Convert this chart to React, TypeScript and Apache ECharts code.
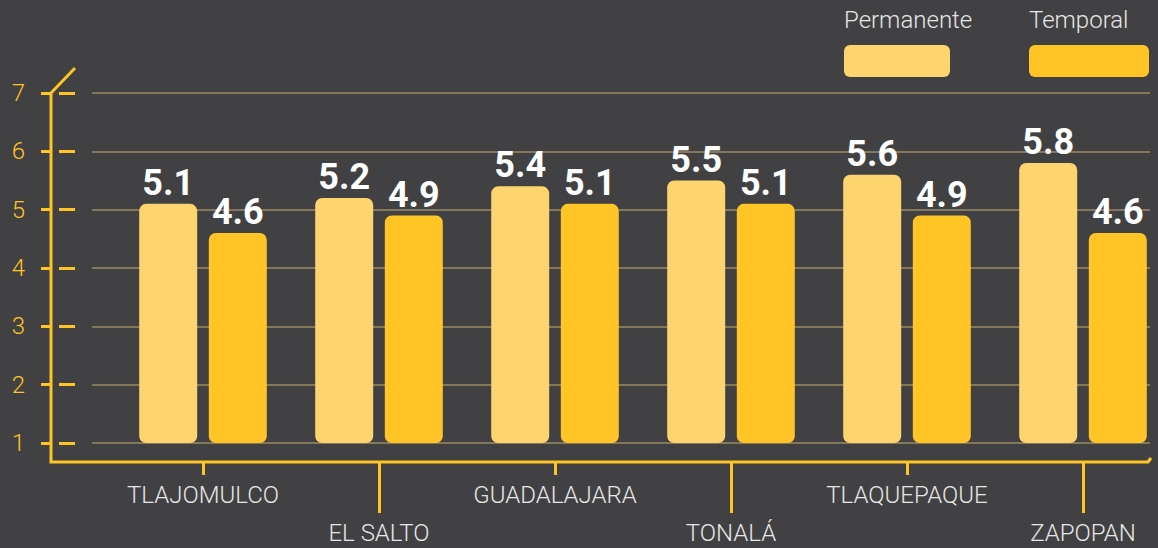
import React, { useEffect, useRef } from "react";
import * as echarts from "echarts";

const categories = ["TLAJOMULCO", "EL SALTO", "GUADALAJARA", "TONALÁ", "TLAQUEPAQUE", "ZAPOPAN"];
const permanente = [5.1, 5.2, 5.4, 5.5, 5.6, 5.8];
const temporal = [4.6, 4.9, 5.1, 5.1, 4.9, 4.6];
const seriesNames = ["Permanente", "Temporal"];
const yMin = 1;
const yMax = 7;
const yInterval = 1;

const BG = "#414042";
const LIGHT = "#FED46E";
const DARK = "#FFC425";
const AXIS = "#FFC425";
const GRIDLINE = "#9d8a66";
const TEXT = "#e6e6e6";
const FONT = "Roboto";

export default function App() {
  const ref = useRef<HTMLDivElement>(null);
  useEffect(() => {
    if (!ref.current) return;
    const chart = echarts.init(ref.current, null, { renderer: "svg" });
    const isEven = (i: number) => i % 2 === 0;
    const isOdd = (i: number) => i % 2 === 1;
    const xLabelStyle = { color: TEXT, fontFamily: FONT, fontSize: 24, fontWeight: 300, lineHeight: 24 };
    const barLabel = {
      show: true,
      position: "top",
      distance: 3,
      color: "#ffffff",
      fontFamily: FONT,
      fontWeight: "bold",
      fontSize: 36,
    };
    const gridBase = { top: 93, height: 350, outerBoundsMode: "none", containLabel: false };
    const valueAxisBase = { type: "value", min: yMin, max: yMax, interval: yInterval, position: "left" };
    const option: any = {
      animation: false,
      backgroundColor: BG,
      grid: [
        { ...gridBase, left: 92, right: 8 },
        { ...gridBase, left: 203, right: 75 },
        { ...gridBase, left: 51, right: 8 },
        { ...gridBase, left: 59, right: 8 },
      ],
      xAxis: [
        {
          type: "category",
          gridIndex: 1,
          data: categories,
          boundaryGap: false,
          position: "bottom",
          offset: 19,
          axisLine: { show: false },
          axisTick: { show: true, length: 13, interval: isEven, lineStyle: { color: AXIS, width: 3 } },
          axisLabel: { interval: isEven, margin: 21, ...xLabelStyle },
        },
        {
          type: "category",
          gridIndex: 1,
          data: categories,
          boundaryGap: false,
          position: "bottom",
          offset: 19,
          axisLine: { show: false },
          axisTick: { show: true, length: 51, interval: isOdd, lineStyle: { color: AXIS, width: 3 } },
          axisLabel: { interval: isOdd, margin: 59, ...xLabelStyle },
        },
        { type: "value", gridIndex: 0, min: 0, max: 1, show: false },
        { type: "value", gridIndex: 2, min: 0, max: 1, show: false },
        { type: "value", gridIndex: 3, min: 0, max: 1, show: false },
      ],
      yAxis: [
        {
          ...valueAxisBase,
          gridIndex: 0,
          axisLine: { show: false },
          axisTick: { show: false },
          axisLabel: { show: false },
          splitLine: { show: true, lineStyle: { color: GRIDLINE, width: 1.5 } },
        },
        {
          type: "value",
          gridIndex: 1,
          min: yMin,
          max: yMax,
          startValue: yMin,
          show: false,
          splitLine: { show: false },
        },
        {
          ...valueAxisBase,
          gridIndex: 2,
          axisLine: { show: false },
          axisTick: { show: true, length: 10, lineStyle: { color: AXIS, width: 3 } },
          axisLabel: { margin: 26, color: AXIS, fontFamily: FONT, fontWeight: 300, fontSize: 24 },
          splitLine: { show: false },
        },
        {
          ...valueAxisBase,
          gridIndex: 3,
          axisLine: { show: false },
          axisTick: { show: true, inside: true, length: 16, lineStyle: { color: AXIS, width: 3 } },
          axisLabel: { show: false },
          splitLine: { show: false },
        },
      ],
      series: [
        {
          name: seriesNames[0],
          type: "bar",
          xAxisIndex: 0,
          yAxisIndex: 1,
          data: permanente,
          barWidth: 58,
          barGap: "20%",
          itemStyle: { color: LIGHT, borderRadius: 7 },
          label: barLabel,
        },
        {
          name: seriesNames[1],
          type: "bar",
          xAxisIndex: 0,
          yAxisIndex: 1,
          data: temporal,
          barWidth: 58,
          barGap: "20%",
          itemStyle: { color: DARK, borderRadius: 7 },
          label: barLabel,
        },
      ],
      graphic: [
        {
          type: "polyline",
          shape: { points: [[75, 68], [51, 93], [51, 462], [1148, 462], [1151, 458]] },
          style: { stroke: AXIS, lineWidth: 3, fill: null },
          z: 10,
        },
        {
          type: "text",
          left: 844,
          top: 8,
          style: { text: seriesNames[0], fill: TEXT, font: `300 24px ${FONT}` },
        },
        {
          type: "rect",
          shape: { x: 844, y: 45, width: 106, height: 32, r: 6 },
          style: { fill: LIGHT },
        },
        {
          type: "text",
          left: 1029,
          top: 8,
          style: { text: seriesNames[1], fill: TEXT, font: `300 24px ${FONT}` },
        },
        {
          type: "rect",
          shape: { x: 1029, y: 45, width: 120, height: 32, r: 6 },
          style: { fill: DARK },
        },
      ],
    };
    chart.setOption(option);
    return () => chart.dispose();
  }, []);
  return (
    <div
      ref={ref}
      style={{ position: "fixed", left: 0, top: 0, width: 1158, height: 548 }}
    />
  );
}
